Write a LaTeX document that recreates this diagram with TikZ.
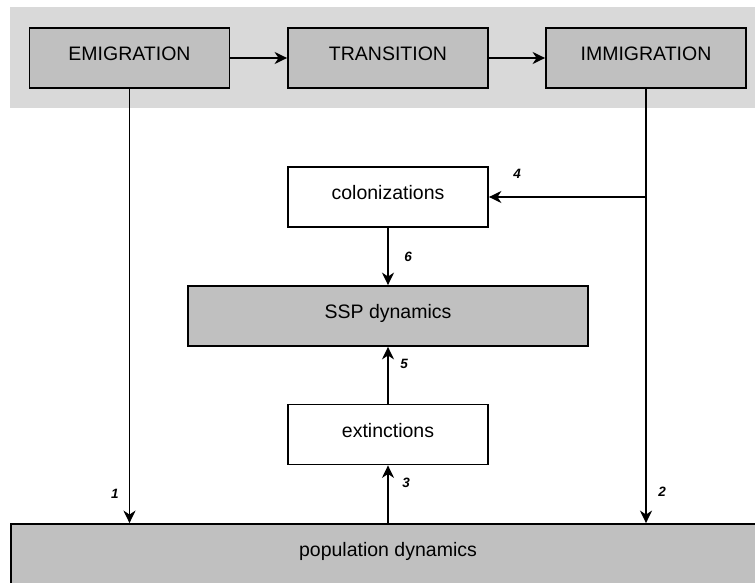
\documentclass[tikz,border=0pt]{standalone}
\usepackage{fontspec}
\setmainfont{Liberation Sans}
\usetikzlibrary{arrows.meta}
\definecolor{boxgray}{RGB}{192,192,192}
\definecolor{bandgray}{RGB}{217,217,217}
\begin{document}
\begin{tikzpicture}[x=1pt,y=-1pt,
  box/.style={draw=black, line width=1.8pt, minimum width=200pt, minimum height=60pt,
    inner sep=0pt, text height=14pt, text depth=9pt,
    font=\fontsize{19.5}{23}\selectfont},
  graybox/.style={box, fill=boxgray},
  whitebox/.style={box, fill=white},
  conn/.style={line width=1.9pt, -{Stealth[length=12.5pt,width=12pt,inset=4pt]}},
  num/.style={font=\fontsize{13.5}{15}\selectfont\bfseries\itshape, inner sep=0pt}]
\useasboundingbox (0,0) rectangle (755,583);
\clip (0,0) rectangle (755,583);
\fill[white] (0,0) rectangle (755,583);
\fill[bandgray] (10,7) rectangle (766,108);
\node[graybox] (emig) at (129.5,58) {EMIGRATION};
\node[graybox] (trans) at (388,58) {TRANSITION};
\node[graybox] (immig) at (646,58) {IMMIGRATION};
\node[whitebox] (colon) at (388,197) {colonizations};
\node[graybox, minimum width=400pt] (ssp) at (388,316) {SSP dynamics};
\node[whitebox] (ext) at (388,434.5) {extinctions};
\node[graybox, minimum width=754pt] (pop) at (388,554) {population dynamics};
\draw[conn] (emig) -- (trans);
\draw[conn] (trans) -- (immig);
\draw[conn] (emig.south) -- (emig.south |- pop.north);
\draw[conn] (immig.south) -- (immig.south |- pop.north);
\coordinate (j4) at (immig.south |- colon.east);
\draw[conn] (j4) -- (colon.east);
\draw[conn] (colon) -- (ssp);
\draw[conn] (ext) -- (ssp);
\draw[conn] (pop.north) -- (ext.south);
\node[num] (l1) at (115,494) {1};
\node[num] (l2) at (662,492) {2};
\node[num] (l3) at (406,483) {3};
\node[num] (l4) at (517,174) {4};
\node[num] (l5) at (404,364) {5};
\node[num] (l6) at (408,257) {6};
\end{tikzpicture}
\end{document}
